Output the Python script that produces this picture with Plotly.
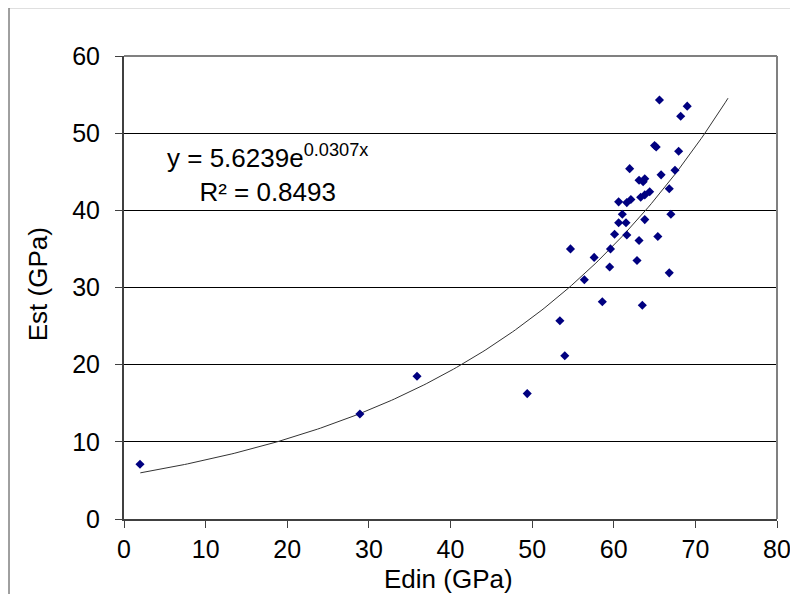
import numpy as np
import plotly.graph_objects as go

edin = [1.96, 28.9, 35.9, 49.4, 53.4, 54.0, 54.7, 56.4, 57.6, 58.6, 59.5, 59.6,
        60.1, 60.6, 60.6, 61.05, 61.5, 61.6, 61.6, 61.95, 62.1, 62.85, 63.1, 63.1,
        63.3, 63.5, 63.6, 63.8, 63.8, 63.8, 64.4, 65.0, 65.2, 65.4, 65.6, 65.8,
        66.8, 66.8, 67.0, 67.5, 67.95, 68.2, 69.0]
est = [7.1, 13.6, 18.5, 16.25, 25.7, 21.15, 35.0, 31.0, 33.9, 28.15, 32.65, 35.0,
       36.9, 41.1, 38.4, 39.5, 38.4, 41.0, 36.8, 45.4, 41.4, 33.5, 43.9, 36.1,
       41.7, 27.7, 43.7, 44.1, 42.0, 38.8, 42.4, 48.4, 48.2, 36.6, 54.3, 44.6,
       42.8, 31.9, 39.5, 45.2, 47.65, 52.2, 53.5]

fit_a = 5.6239
fit_b = 0.0307
fit_x_start = 2.0
fit_x_end = 74.0

x_ticks = [0, 10, 20, 30, 40, 50, 60, 70, 80]
y_ticks = [0, 10, 20, 30, 40, 50, 60]

fx = np.linspace(fit_x_start, fit_x_end, 200)
fy = fit_a * np.exp(fit_b * fx)

font_family = "Liberation Sans, Arial, sans-serif"
fs_tick = 25
fs_text = 26

fig = go.Figure()
fig.add_trace(go.Scatter(x=fx, y=fy, mode="lines",
                         line=dict(color="#333333", width=1), hoverinfo="skip"))
fig.add_trace(go.Scatter(x=edin, y=est, mode="markers",
                         marker=dict(symbol="diamond", size=7, color="#000080",
                                     line=dict(width=0))))

fig.update_layout(
    width=790, height=586,
    margin=dict(l=116, r=21, t=48, b=75, autoexpand=False),
    paper_bgcolor="white", plot_bgcolor="white",
    showlegend=False,
    font=dict(family=font_family, size=fs_tick, color="black"),
    xaxis=dict(range=[0, 80], tickvals=x_ticks, ticks="outside", ticklen=7,
               tickcolor="#404040", showline=True, linecolor="#404040", linewidth=2,
               showgrid=False, zeroline=False, mirror=False, automargin=False,
               ticklabelstandoff=0),
    yaxis=dict(range=[0, 60], tickvals=y_ticks, ticks="outside", ticklen=7,
               tickcolor="#404040", showline=True, linecolor="#404040", linewidth=2,
               showgrid=True, gridcolor="black", gridwidth=1, zeroline=False,
               automargin=False, ticklabelstandoff=10),
)

# plot area top/right border (gray)
fig.add_shape(type="line", xref="paper", yref="paper", x0=0, x1=1, y0=1, y1=1,
              line=dict(color="#808080", width=2))
fig.add_shape(type="line", xref="paper", yref="paper", x0=1, x1=1, y0=0, y1=1,
              line=dict(color="#808080", width=2))
# outer chart frame
fig.add_shape(type="line", xref="paper", yref="paper", x0=-0.1761, x1=-0.1761,
              y0=-0.2, y1=1.1049, line=dict(color="#808080", width=1.5))
fig.add_shape(type="line", xref="paper", yref="paper", x0=-0.1761, x1=1.1,
              y0=1.1049, y1=1.1049, line=dict(color="#808080", width=1.5))

# axis titles
fig.add_annotation(x=0.497, y=-0.13, xref="paper", yref="paper", showarrow=False,
                   text="Edin (GPa)", xanchor="center", yanchor="middle",
                   font=dict(size=fs_text, family=font_family))
fig.add_annotation(x=-0.1325, y=0.508, xref="paper", yref="paper", showarrow=False,
                   text="Est (GPa)", textangle=-90, xanchor="center", yanchor="middle",
                   font=dict(size=fs_text, family=font_family))

fig.add_annotation(x=17.6, y=44.8, xref="x", yref="y", showarrow=False,
                   text="y = 5.6239e<sup>0.0307x</sup><br>R² = 0.8493",
                   align="center", font=dict(size=fs_text, family=font_family))

fig.write_html("out.html")
